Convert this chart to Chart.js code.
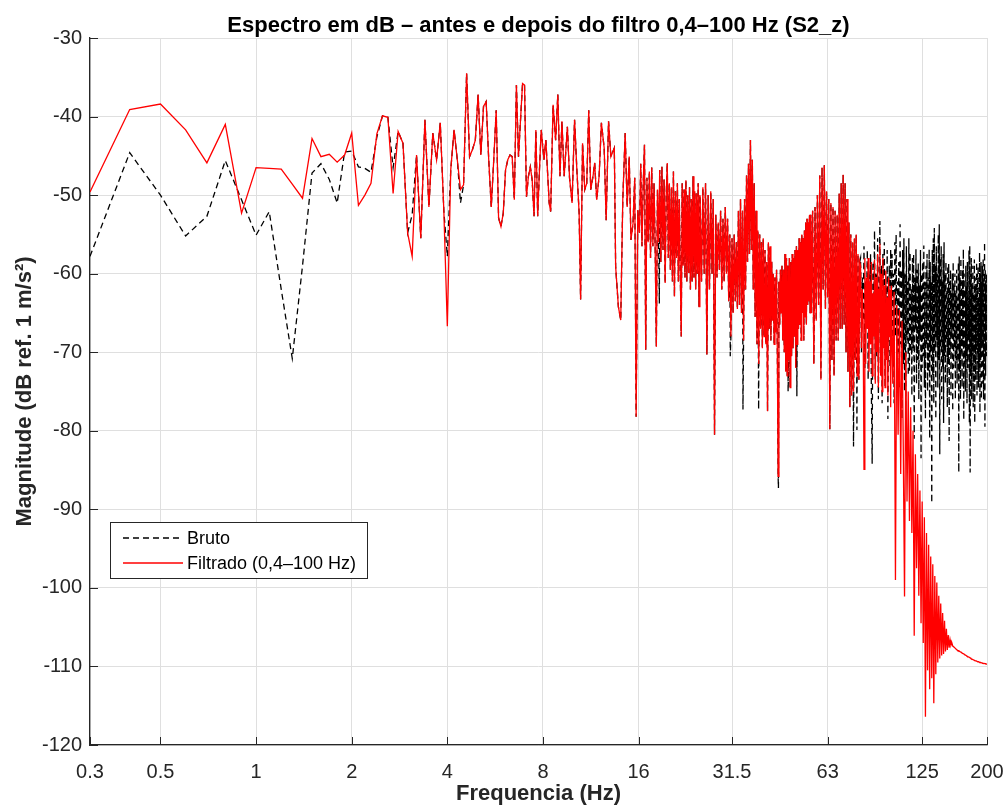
<!DOCTYPE html>
<html lang="pt">
<head>
<meta charset="utf-8">
<title>Espectro em dB</title>
<script src="https://cdn.jsdelivr.net/npm/chart.js@4.4.1/dist/chart.umd.min.js"></script>
<style>
  html, body { margin: 0; padding: 0; background: #fff; }
  #wrap { width: 1007px; height: 807px; }
</style>
</head>
<body>
<div id="wrap"><canvas id="espectro" width="1007" height="807"></canvas></div>
<script>
const tituloGrafico = 'Espectro em dB \u2013 antes e depois do filtro 0,4\u2013100 Hz (S2_z)';
const nomesSeries = ['Bruto', 'Filtrado (0,4\u2013100 Hz)'];
const tituloX = 'Frequencia (Hz)';
const tituloY = 'Magnitude (dB ref. 1 m/s\u00b2)';

const tickFreqs = [0.3, 0.5, 1, 2, 4, 8, 16, 31.5, 63, 125, 200];
const tickLabels = ['0.3', '0.5', '1', '2', '4', '8', '16', '31.5', '63', '125', '200'];

// 0.3 - 2.4 Hz: as duas curvas sao diferentes
const freqLow = [0.3, 0.4, 0.5, 0.6, 0.7, 0.8, 0.9, 1.0, 1.1, 1.2, 1.3, 1.4, 1.5, 1.6, 1.7, 1.8, 1.9, 2.0, 2.1, 2.2, 2.3, 2.4];
const brutoLow = [-57.8, -44.6, -50.0, -55.2, -52.7, -45.6, -50.6, -55.1, -52.1, -62.0, -70.8, -59.0, -47.2, -46.0, -48.0, -51.0, -44.5, -44.4, -46.4, -46.6, -47.1, -42.6];
const filtradoLow = [-49.6, -39.1, -38.4, -41.7, -45.9, -41.0, -52.3, -46.5, -46.6, -46.7, -48.6, -50.4, -42.8, -45.1, -44.8, -45.8, -44.9, -42.1, -51.3, -50.0, -48.5, -42.2];

// 2.5 - 80 Hz: filtrado e bruto praticamente iguais
const freqMid = [
  2.5, 2.6, 2.7, 2.8, 2.9, 3.0, 3.1, 3.2, 3.3, 3.4,
  3.5, 3.6, 3.7, 3.8, 3.9, 4.0, 4.1, 4.2, 4.3, 4.4,
  4.5, 4.6, 4.7, 4.8, 4.9, 5.0, 5.1, 5.2, 5.3, 5.4,
  5.5, 5.6, 5.7, 5.8, 5.9, 6.0, 6.1, 6.2, 6.3, 6.4,
  6.5, 6.6, 6.7, 6.8, 6.9, 7.0, 7.1, 7.2, 7.3, 7.4,
  7.5, 7.6, 7.7, 7.8, 7.9, 8.06, 8.17, 8.37, 8.46, 8.61,
  8.77, 8.91, 9.05, 9.18, 9.33, 9.55, 9.70, 9.88, 10.06, 10.23,
  10.40, 10.51, 10.66, 10.83, 10.99, 11.15, 11.31, 11.50, 11.64, 11.81,
  12.02, 12.22, 12.47, 12.65, 12.87, 13.09, 13.42, 13.55, 13.82, 14.06,
  14.27, 14.52, 14.73, 14.95, 15.14, 15.37, 15.56, 15.72, 15.91,
  16.10, 16.25, 16.40, 16.55, 16.70, 16.85, 17.00, 17.15, 17.30, 17.45,
  17.60, 17.75, 17.90, 18.05, 18.20, 18.35, 18.50, 18.65, 18.80, 18.95,
  19.10, 19.25, 19.40, 19.55, 19.70, 19.85, 20.00, 20.15, 20.30, 20.45,
  20.60, 20.75, 20.90, 21.05, 21.20, 21.35, 21.50, 21.65, 21.80, 21.95,
  22.10, 22.25, 22.40, 22.55, 22.70, 22.85, 23.00, 23.15, 23.30, 23.45,
  23.60, 23.75, 23.90, 24.05, 24.20, 24.35, 24.50, 24.65, 24.80, 24.95,
  25.00, 25.25, 25.50, 25.75, 26.00, 26.25, 26.50, 26.75, 27.00, 27.25,
  27.50, 27.75, 28.00, 28.25, 28.50, 28.75, 29.00, 29.25, 29.50, 29.75,
  30.00, 30.25, 30.50, 30.75, 31.00, 31.25, 31.50, 31.75, 32.00, 32.25,
  32.50, 32.75, 33.00, 33.25, 33.50, 33.75, 34.00, 34.25, 34.50, 34.75,
  35.00, 35.25, 35.50, 35.75, 36.00, 36.25, 36.50, 36.75, 37.00, 37.25,
  37.50, 37.75, 38.00, 38.25, 38.50, 38.75, 39.00, 39.25, 39.50, 39.75,
  40.00, 40.25, 40.50, 40.75, 41.00, 41.25, 41.50, 41.75, 42.00, 42.25,
  42.50, 42.75, 43.00, 43.25, 43.50, 43.75, 44.00, 44.25, 44.50, 44.75,
  45.00, 45.25, 45.50, 45.75, 46.00, 46.25, 46.50, 46.75, 47.00, 47.25,
  47.50, 47.75, 48.00, 48.25, 48.50, 48.75, 49.00, 49.25, 49.50, 49.75,
  50.00, 50.25, 50.50, 50.75, 51.00, 51.25, 51.50, 51.75, 52.00, 52.25,
  52.50, 52.75, 53.00, 53.25, 53.50, 53.75, 54.00, 54.25, 54.50, 54.75,
  55.00, 55.25, 55.50, 55.75,
  56.0, 56.5, 57.0, 57.5, 58.0, 58.5, 59.0, 59.5, 60.0, 60.5,
  61.0, 61.5, 62.0, 62.5, 63.0, 63.5, 64.0, 64.5, 65.0, 65.5,
  66.0, 66.5, 67.0, 67.5, 68.0, 68.5, 69.0, 69.5, 70.0, 70.5,
  71.0, 71.5, 72.0, 72.5, 73.0, 73.5, 74.0, 74.5, 75.0, 75.5,
  76.0, 76.5, 77.0, 77.5, 78.0, 78.5, 79.0, 79.5
];
const espectroMid = [
  -39.9, -40.1, -49.8, -41.9, -43.4, -54.8, -57.8, -44.9, -55.5, -40.4,
  -51.5, -42.1, -45.5, -40.8, -52.0, -66.7, -46.8, -41.7, -45.5, -49.3,
  -48.7, -34.5, -45.1, -44.2, -43.0, -37.2, -44.9, -38.7, -38.1, -45.5,
  -51.5, -45.5, -39.2, -52.9, -54.0, -52.3, -46.8, -45.5, -44.9, -45.1,
  -50.6, -36.0, -45.1, -40.4, -35.8, -36.0, -50.2, -47.6, -46.4, -48.1,
  -52.7, -41.7, -52.7, -46.8, -41.7, -45.5, -43.0, -51.0, -52.1, -38.5,
  -43.0, -37.2, -47.6, -40.6, -47.6, -41.3, -47.8, -51.0, -40.4, -46.8,
  -52.3, -63.3, -43.4, -49.3, -48.5, -39.2, -49.3, -47.6, -45.9, -50.6,
  -47.6, -40.8, -44.0, -53.2, -40.6, -45.1, -44.0, -59.1, -64.2, -65.9,
  -50.6, -42.1, -51.5, -45.1, -55.7, -53.6, -47.8, -78.2, -51.9,
  -54.8, -46.0, -56.5, -48.5, -43.6, -69.7, -47.8, -56.0, -47.0, -58.0,
  -46.5, -56.5, -48.5, -57.0, -69.3, -49.3, -56.0, -46.8, -58.5, -46.4,
  -57.0, -48.0, -61.2, -50.0, -45.9, -58.0, -48.5, -59.5, -49.0, -61.0,
  -47.0, -62.9, -49.5, -58.0, -48.5, -61.0, -50.5, -60.0, -68.0, -48.5,
  -59.0, -49.3, -60.5, -48.1, -61.0, -50.0, -59.9, -49.0, -62.0, -50.5,
  -61.0, -47.6, -60.5, -49.5, -62.0, -49.8, -60.0, -48.5, -64.2, -50.0,
  -50.5, -61.0, -49.0, -60.0, -48.5, -70.3, -50.0, -62.0, -49.5, -60.0,
  -50.5, -80.5, -52.5, -60.5, -53.5, -59.5, -52.0, -62.0, -53.0, -61.0,
  -51.5, -60.0, -53.0, -63.5, -55.0, -68.0, -55.5, -65.0, -55.0, -63.5,
  -56.0, -64.5, -52.0, -64.0, -50.5, -65.0, -52.0, -68.5, -50.5, -62.0,
  -47.5, -58.5, -46.0, -57.5, -43.0, -57.0, -45.5, -62.0, -48.5, -65.5,
  -52.0, -69.0, -54.5, -71.5, -55.0, -67.0, -56.0, -69.5, -55.5, -68.0,
  -57.0, -69.0, -58.5, -77.5, -56.0, -67.0, -56.5, -68.5, -58.5, -66.0,
  -60.0, -69.0, -60.5, -67.5, -59.5, -70.0, -85.8, -61.0, -66.5, -59.5,
  -65.0, -59.0, -68.5, -59.5, -70.0, -57.5, -72.5, -58.0, -73.0, -59.0,
  -71.0, -58.0, -74.5, -58.5, -70.5, -57.5, -69.5, -58.0, -68.0, -57.0,
  -72.0, -56.5, -69.0, -57.0, -67.0, -55.5, -66.5, -56.0, -68.5, -55.0,
  -65.0, -55.5, -68.5, -54.5, -65.5, -53.5, -66.5, -53.0, -64.0, -53.5,
  -63.5, -52.5, -65.0, -52.5,
  -65.0, -52.0, -71.5, -51.5, -66.0, -50.0, -64.0, -47.5, -73.5, -46.5,
  -62.0, -46.2, -64.5, -49.5, -63.0, -50.5, -79.8, -51.0, -71.0, -51.5,
  -73.0, -52.0, -68.5, -52.5, -68.5, -49.8, -67.0, -48.5, -67.0, -47.4,
  -66.5, -48.5, -70.0, -50.5, -72.5, -53.5, -77.0, -55.0, -75.5, -56.0,
  -75.0, -55.5, -71.0, -55.0, -73.0, -57.5, -73.5, -58.5
];

// pontos onde o bruto desce abaixo do filtrado
const brutoPicoFreq = [2.7, 3.1, 4.0, 4.4, 18.6, 31.1, 34.1, 38.2, 44.1, 47.3, 50.4, 76.0, 77.9];
const brutoPicoVal = [-46.5, -52.5, -57.8, -51.0, -63.8, -70.5, -77.3, -77.3, -87.3, -75.0, -75.6, -82.0, -79.9];

// 80 - 200 Hz, bruto
const freqHighBruto = [
  80.0, 80.5, 81.0, 81.5, 82.0, 82.5, 83.0, 83.5, 84.0, 84.5,
  85.0, 85.5, 86.0, 86.5, 87.0, 87.5, 88.0, 88.5, 89.0, 89.5,
  90.0, 90.5, 91.0, 91.5, 92.0, 92.5, 93.0, 93.5, 94.0, 94.5,
  95.0, 95.5, 96.0, 96.5, 97.0, 97.5, 98.0, 98.5, 99.0, 99.5,
  100.0,
  100.5, 101.0, 101.5, 102.0, 102.5, 103.0, 103.5, 104.0, 104.5, 105.0,
  105.5, 106.0, 106.5, 107.0, 107.5, 108.0, 108.5, 109.0, 109.5, 110.0,
  110.5, 111.0, 111.5, 112.0, 112.5, 113.0, 113.5, 114.0, 114.5, 115.0,
  115.5, 116.0, 116.5, 117.0, 117.5, 118.0, 118.5, 119.0, 119.5, 120.0,
  120.5, 121.0, 121.5, 122.0, 122.5, 123.0, 123.5, 124.0, 124.5, 125.0,
  125.5, 126.0, 126.5, 127.0, 127.5, 128.0, 128.5, 129.0, 129.5, 130.0,
  130.5, 131.0, 131.5, 132.0, 132.5, 133.0, 133.5, 134.0, 134.5, 135.0,
  135.5, 136.0, 136.5, 137.0, 137.5, 138.0, 138.5, 139.0, 139.5, 140.0,
  140.5, 141.0, 141.5, 142.0, 142.5, 143.0, 143.5, 144.0, 144.5, 145.0,
  145.5, 146.0, 146.5, 147.0, 147.5, 148.0, 148.5, 149.0, 149.5, 150.0,
  150.5, 151.0, 151.5, 152.0, 152.5, 153.0, 153.5, 154.0, 154.5, 155.0,
  155.5, 156.0, 156.5, 157.0, 157.5, 158.0, 158.5, 159.0, 159.5, 160.0,
  160.5, 161.0, 161.5, 162.0, 162.5, 163.0, 163.5, 164.0, 164.5, 165.0,
  165.5, 166.0, 166.5, 167.0, 167.5, 168.0, 168.5, 169.0, 169.5, 170.0,
  170.5, 171.0, 171.5, 172.0, 172.5, 173.0, 173.5, 174.0, 174.5, 175.0,
  175.5, 176.0, 176.5, 177.0, 177.5, 178.0, 178.5, 179.0, 179.5, 180.0,
  180.5, 181.0, 181.5, 182.0, 182.5, 183.0, 183.5, 184.0, 184.5, 185.0,
  185.5, 186.0, 186.5, 187.0, 187.5, 188.0, 188.5, 189.0, 189.5, 190.0,
  190.5, 191.0, 191.5, 192.0, 192.5, 193.0, 193.5, 194.0, 194.5, 195.0,
  195.5, 196.0, 196.5, 197.0, 197.5, 198.0, 198.5, 199.0, 199.5, 200.0
];
const brutoHigh = [
  -58.0, -70.0, -60.5, -66.0, -56.5, -72.0, -61.0, -64.5, -57.0, -73.5,
  -59.5, -68.0, -57.5, -75.0, -84.2, -58.5, -66.0, -54.5, -73.5, -60.0,
  -70.5, -55.5, -76.0, -62.0, -53.3, -71.0, -59.0, -76.5, -57.5, -67.0,
  -56.0, -74.5, -61.5, -69.0, -57.0, -78.5, -63.0, -59.0, -72.0, -56.9,
  -68.5,
  -57.5, -72.0, -60.0, -76.5, -56.0, -68.0, -55.0, -73.5, -61.0, -70.0,
  -58.5, -74.5, -53.7, -69.0, -59.5, -78.5, -57.0, -71.5, -55.5, -75.0,
  -60.0, -79.5, -56.5, -68.5, -61.0, -73.0, -55.5, -72.5, -57.3, -70.0,
  -62.0, -75.5, -58.0, -69.5, -57.5, -81.0, -60.5, -67.0, -56.9, -74.0,
  -59.5, -71.0, -58.7, -76.0, -61.5, -68.5, -57.0, -83.5, -60.0, -72.0,
  -58.5, -70.5, -56.4, -74.5, -61.0, -78.5, -59.0, -69.0, -57.5, -75.0,
  -60.5, -72.5, -56.9, -81.0, -58.5, -70.0, -61.0, -89.2, -57.0, -73.0,
  -55.5, -76.5, -54.2, -70.0, -59.0, -78.5, -56.5, -68.5, -60.0, -74.5,
  -55.0, -71.0, -53.7, -83.0, -58.0, -69.5, -56.5, -76.0, -61.0, -72.0,
  -57.5, -79.0, -56.0, -70.5, -60.0, -74.0, -58.5, -68.5, -62.0, -77.0,
  -59.0, -71.5, -58.7, -81.3, -61.0, -70.0, -59.5, -75.5, -62.5, -68.0,
  -60.0, -77.5, -58.5, -72.0, -61.5, -69.5, -60.0, -76.0, -62.5, -71.0,
  -59.5, -74.0, -63.0, -67.5, -58.5, -85.3, -57.8, -72.5, -60.5, -76.0,
  -58.0, -70.0, -61.0, -74.5, -59.5, -69.0, -56.9, -78.6, -60.0, -71.5,
  -62.0, -75.0, -59.0, -70.5, -61.5, -76.5, -58.5, -72.0, -63.0, -68.5,
  -57.0, -79.0, -56.4, -85.3, -60.0, -72.5, -58.0, -76.0, -61.5, -70.0,
  -59.0, -77.0, -62.5, -71.5, -58.2, -79.0, -60.5, -73.5, -61.5, -69.5,
  -58.5, -75.5, -60.0, -70.0, -59.0, -74.5, -63.0, -72.0, -57.3, -77.7,
  -60.0, -71.0, -58.5, -76.0, -61.0, -69.5, -59.0, -74.0, -58.0, -76.0,
  -60.5, -72.0, -56.0, -79.5, -59.5, -73.0, -61.0, -70.5, -60.0, -66.5
];

// 80 - 200 Hz, filtrado (corte do filtro)
const freqHighFiltrado = [
  80.0, 80.5, 81.0, 81.5, 82.0, 82.5, 83.0, 83.5, 84.0, 84.5,
  85.0, 85.5, 86.0, 86.5, 87.0, 87.5, 88.0, 88.5, 89.0, 89.5,
  90.0, 90.5, 91.0, 91.5, 92.0, 92.5, 93.0, 93.5, 94.0, 94.5,
  95.0, 95.5, 96.0, 96.5, 97.0, 97.5, 98.0, 98.5, 99.0, 99.5,
  100,
  101, 102, 103, 104, 105, 106, 107, 108, 109, 110,
  111, 112, 113, 114, 115, 116, 117, 118, 119, 120,
  121, 122, 123, 124, 125, 126, 127, 128, 129, 130,
  131, 132, 133, 134, 135, 136, 137, 138, 139, 140,
  141, 142, 143, 144, 145, 146, 147, 148, 149, 150,
  151, 152, 153, 154, 155, 156, 157, 158, 159, 160,
  161, 162, 163, 164, 165, 166, 167, 168, 169, 170,
  171, 172, 173, 174, 175, 176, 177, 178, 179, 180,
  181, 182, 183, 184, 185, 186, 187, 188, 189, 190,
  191, 192, 193, 194, 195, 196, 197, 198, 199, 200
];
const filtradoHigh = [
  -59.0, -69.5, -62.0, -66.5, -84.9, -58.0, -71.5, -60.5, -67.0, -58.0,
  -72.5, -61.0, -69.0, -58.5, -73.0, -62.5, -68.0, -58.2, -74.0, -60.5,
  -70.0, -57.5, -74.5, -62.0, -56.2, -73.0, -60.0, -75.0, -58.0, -69.5,
  -61.5, -74.5, -59.6, -71.0, -63.0, -75.5, -60.5, -68.0, -62.0, -77.0,
  -61.5,
  -74.0, -62.3, -99.0, -64.0, -80.5, -64.6, -85.5, -66.0, -82.0, -101.1,
  -70.0, -89.0, -75.0, -91.5, -77.0, -93.0, -80.0, -106.1, -83.0, -97.5,
  -85.5, -101.0, -87.6, -104.5, -89.0, -107.0, -91.0, -116.4, -93.0, -110.5,
  -94.5, -112.9, -96.0, -111.5, -97.0, -114.7, -98.5, -111.0, -99.3, -109.5,
  -101.0, -109.0, -102.0, -108.6, -103.2, -108.4, -104.2, -108.1, -105.2, -107.9,
  -106.0, -107.6, -106.6, -107.3, -107.0, -107.4, -107.5, -107.6, -107.7, -107.8,
  -107.9, -108.0, -108.0, -108.1, -108.15, -108.2, -108.3, -108.35, -108.4, -108.5,
  -108.55, -108.6, -108.7, -108.75, -108.8, -108.85, -108.9, -109.0, -109.05, -109.1,
  -109.15, -109.2, -109.25, -109.3, -109.3, -109.35, -109.4, -109.4, -109.45, -109.5,
  -109.5, -109.55, -109.55, -109.6, -109.6, -109.6, -109.65, -109.65, -109.7, -109.7
];

const fonte = '"Liberation Sans", Arial, Helvetica, sans-serif';
const cinza = '#262626';

const pts = (fs, vs) => fs.map((f, i) => ({ x: f, y: vs[i] }));

const brutoMidPts = pts(freqMid, espectroMid);
brutoPicoFreq.forEach((f, k) => {
  const p = brutoMidPts.find(q => q.x === f);
  if (p) p.y = brutoPicoVal[k];
  else brutoMidPts.push({ x: f, y: brutoPicoVal[k] });
});
brutoMidPts.sort((a, b) => a.x - b.x);

const brutoPts = [...pts(freqLow, brutoLow), ...brutoMidPts, ...pts(freqHighBruto, brutoHigh)];
const filtradoPts = [...pts(freqLow, filtradoLow), ...pts(freqMid, espectroMid), ...pts(freqHighFiltrado, filtradoHigh)];

// titulo, ticks para dentro e legenda no estilo do MATLAB
const decoracoes = {
  id: 'decoracoes',
  afterDraw(chart) {
    const { ctx, chartArea: a, scales: { x, y } } = chart;
    ctx.save();
    ctx.strokeStyle = cinza;
    ctx.lineWidth = 1;
    ctx.beginPath();
    tickFreqs.forEach(f => {
      const px = Math.round(x.getPixelForValue(f)) + 0.5;
      ctx.moveTo(px, a.bottom);
      ctx.lineTo(px, a.bottom - 8);
    });
    y.ticks.forEach(t => {
      const py = Math.round(y.getPixelForValue(t.value)) + 0.5;
      ctx.moveTo(a.left, py);
      ctx.lineTo(a.left + 8, py);
    });
    ctx.stroke();

    ctx.fillStyle = '#000';
    ctx.font = 'bold 22px ' + fonte;
    ctx.textAlign = 'center';
    ctx.textBaseline = 'middle';
    ctx.fillText(tituloGrafico, (a.left + a.right) / 2, 26);

    const lx = a.left + 20, ly = a.bottom - 223, lw = 257, lh = 56;
    ctx.fillStyle = '#fff';
    ctx.fillRect(lx, ly, lw, lh);
    ctx.strokeStyle = cinza;
    ctx.lineWidth = 1;
    ctx.strokeRect(lx + 0.5, ly + 0.5, lw, lh);

    const linhas = [
      { y: ly + 16, cor: '#000', dash: [6, 4] },
      { y: ly + 41, cor: '#ff0000', dash: [] }
    ];
    ctx.font = '18px ' + fonte;
    ctx.textAlign = 'left';
    linhas.forEach((l, i) => {
      ctx.beginPath();
      ctx.setLineDash(l.dash);
      ctx.strokeStyle = l.cor;
      ctx.lineWidth = 1.3;
      ctx.moveTo(lx + 13, l.y);
      ctx.lineTo(lx + 73, l.y);
      ctx.stroke();
      ctx.setLineDash([]);
      ctx.fillStyle = '#000';
      ctx.fillText(nomesSeries[i], lx + 77, l.y + 1);
    });
    ctx.restore();
  }
};

new Chart(document.getElementById('espectro'), {
  type: 'line',
  data: {
    datasets: [
      { label: nomesSeries[0], data: brutoPts, borderColor: '#000000', borderWidth: 1.3, borderDash: [6, 4], pointRadius: 0, tension: 0, order: 2 },
      { label: nomesSeries[1], data: filtradoPts, borderColor: '#ff0000', borderWidth: 1.3, pointRadius: 0, tension: 0, order: 1 }
    ]
  },
  options: {
    responsive: false,
    animation: false,
    devicePixelRatio: 1,
    events: [],
    layout: { padding: { top: 38, right: 20, left: 0, bottom: 0 } },
    plugins: {
      legend: { display: false },
      tooltip: { enabled: false },
      title: { display: false }
    },
    scales: {
      x: {
        type: 'logarithmic',
        min: 0.3,
        max: 200,
        afterBuildTicks: s => { s.ticks = tickFreqs.map(v => ({ value: v })); },
        afterFit: s => { s.height = 62; s.paddingLeft = 0; s.paddingRight = 0; },
        ticks: {
          callback: (v, i) => tickLabels[i],
          color: cinza,
          font: { family: fonte, size: 20 },
          padding: 15,
          maxRotation: 0,
          autoSkip: false
        },
        grid: { color: '#dfdfdf', drawTicks: false },
        border: { color: cinza, width: 1.3 },
        title: {
          display: true, text: tituloX, color: cinza,
          font: { family: fonte, size: 22, weight: 'bold' },
          padding: { top: 0, bottom: 0 }
        }
      },
      y: {
        min: -120,
        max: -30,
        afterFit: s => { s.width = 90; s.paddingTop = 0; s.paddingBottom = 0; },
        ticks: {
          stepSize: 10,
          color: cinza,
          font: { family: fonte, size: 20 },
          padding: 8
        },
        grid: { color: '#dfdfdf', drawTicks: false },
        border: { color: cinza, width: 1.3 },
        title: {
          display: true, text: tituloY, color: cinza,
          font: { family: fonte, size: 22, weight: 'bold' },
          padding: { top: 12, bottom: 0 }
        }
      }
    }
  },
  plugins: [decoracoes]
});
</script>
</body>
</html>
